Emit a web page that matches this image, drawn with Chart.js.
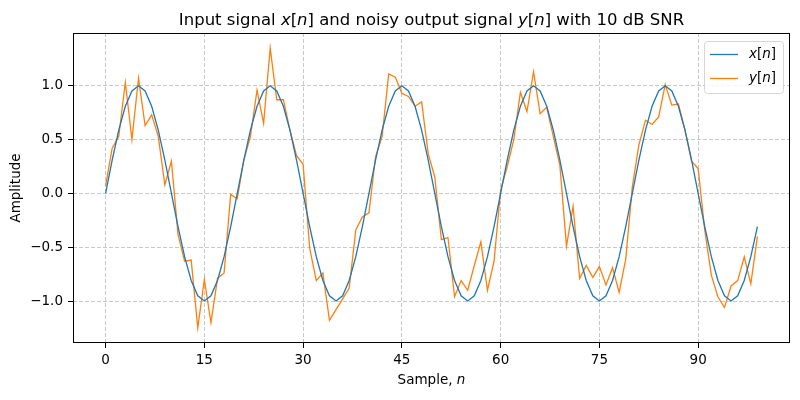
<!DOCTYPE html>
<html>
<head>
<meta charset="utf-8">
<script src="https://cdn.jsdelivr.net/npm/chart.js@4.4.1/dist/chart.umd.min.js"></script>
<style>
  html, body { margin: 0; padding: 0; background: #fff; }
  #wrap { width: 800px; height: 400px; }
</style>
</head>
<body>
<div id="wrap"><canvas id="signalChart" width="800" height="400"></canvas></div>
<script>
// sample index n = 0..99
const samples = Array.from({ length: 100 }, (_, i) => i);

// input signal x[n]
const xSignal = [
  0, 0.309, 0.588, 0.809, 0.951, 1, 0.951, 0.809, 0.588, 0.309,
  0, -0.309, -0.588, -0.809, -0.951, -1, -0.951, -0.809, -0.588, -0.309,
  0, 0.309, 0.588, 0.809, 0.951, 1, 0.951, 0.809, 0.588, 0.309,
  0, -0.309, -0.588, -0.809, -0.951, -1, -0.951, -0.809, -0.588, -0.309,
  0, 0.309, 0.588, 0.809, 0.951, 1, 0.951, 0.809, 0.588, 0.309,
  0, -0.309, -0.588, -0.809, -0.951, -1, -0.951, -0.809, -0.588, -0.309,
  0, 0.309, 0.588, 0.809, 0.951, 1, 0.951, 0.809, 0.588, 0.309,
  0, -0.309, -0.588, -0.809, -0.951, -1, -0.951, -0.809, -0.588, -0.309,
  0, 0.309, 0.588, 0.809, 0.951, 1, 0.951, 0.809, 0.588, 0.309,
  0, -0.309, -0.588, -0.809, -0.951, -1, -0.951, -0.809, -0.588, -0.309
];

// noisy output y[n]
const ySignal = [
  0.07, 0.42, 0.53, 1.03, 0.50, 1.07, 0.63, 0.73, 0.53, 0.08,
  0.30, -0.38, -0.63, -0.62, -1.25, -0.80, -1.20, -0.79, -0.74, -0.01,
  -0.05, 0.31, 0.53, 0.96, 0.65, 1.35, 0.87, 0.87, 0.59, 0.35,
  0.27, -0.51, -0.81, -0.74, -1.18, -1.08, -0.98, -0.88, -0.34, -0.22,
  -0.18, 0.34, 0.53, 1.11, 1.08, 0.93, 0.90, 0.81, 0.85, 0.37,
  0.15, -0.43, -0.41, -0.96, -0.81, -0.90, -0.67, -0.45, -0.90, -0.63,
  0.03, 0.25, 0.50, 0.94, 0.76, 1.13, 0.74, 0.80, 0.53, 0.26,
  -0.49, -0.12, -0.79, -0.67, -0.78, -0.68, -0.85, -0.69, -0.92, -0.61,
  0.06, 0.45, 0.68, 0.64, 0.71, 1.01, 0.82, 0.83, 0.59, 0.30,
  0.23, -0.34, -0.76, -0.96, -1.06, -0.86, -0.81, -0.59, -0.84, -0.40
];

const xTicks = [0, 15, 30, 45, 60, 75, 90];
const yTicks = [-1.0, -0.5, 0.0, 0.5, 1.0];

const FONT = 'DejaVu Sans';
Chart.defaults.font.family = FONT;
Chart.defaults.color = '#000';

// draws a line of text made of plain and italic pieces, centred on cx
function drawMixed(ctx, parts, cx, cy, size) {
    const fontOf = p => (p[1] ? 'italic ' : '') + size + 'px "' + FONT + '"';
    let total = 0;
    parts.forEach(p => { ctx.font = fontOf(p); total += ctx.measureText(p[0]).width; });
    let x = cx - total / 2;
    ctx.textAlign = 'left';
    parts.forEach(p => {
        ctx.font = fontOf(p);
        ctx.fillText(p[0], x, cy);
        x += ctx.measureText(p[0]).width;
    });
}

const decorations = {
    id: 'decorations',
    afterDraw(chart) {
        const ctx = chart.ctx;
        const a = chart.chartArea;
        ctx.save();
        // axes frame
        ctx.strokeStyle = '#000';
        ctx.lineWidth = 1;
        ctx.strokeRect(Math.round(a.left) + 0.5, Math.round(a.top) + 0.5,
            Math.round(a.right - a.left) - 1, Math.round(a.bottom - a.top) - 1);

        const cx = (a.left + a.right) / 2;
        ctx.fillStyle = '#000';
        ctx.textBaseline = 'alphabetic';
        drawMixed(ctx, [['Input signal ', 0], ['x', 1], ['[', 0], ['n', 1],
            ['] and noisy output signal ', 0], ['y', 1], ['[', 0], ['n', 1],
            ['] with 10 dB SNR', 0]], cx, 25, 16.5);

        ctx.textBaseline = 'middle';
        drawMixed(ctx, [['Sample, ', 0], ['n', 1]], cx, 380, 13.5);

        ctx.save();
        ctx.translate(16, (a.top + a.bottom) / 2);
        ctx.rotate(-Math.PI / 2);
        drawMixed(ctx, [['Amplitude', 0]], 0, 0, 13.5);
        ctx.restore();

        // legend
        const lx = 704, ly = 41, lw = 79, lh = 52;
        ctx.beginPath();
        ctx.roundRect(lx + 0.5, ly + 0.5, lw, lh, 3);
        ctx.fillStyle = 'rgba(255,255,255,0.8)';
        ctx.fill();
        ctx.strokeStyle = '#d6d6d6';
        ctx.lineWidth = 1;
        ctx.stroke();
        const items = [['x', '#1f77b4', 54.5], ['y', '#ff7f0e', 78.5]];
        items.forEach(it => {
            ctx.beginPath();
            ctx.moveTo(710, it[2]);
            ctx.lineTo(738, it[2]);
            ctx.strokeStyle = it[1];
            ctx.lineWidth = 1.3;
            ctx.stroke();
            ctx.fillStyle = '#000';
            ctx.textBaseline = 'middle';
            const parts = [[it[0], 1], ['[', 0], ['n', 1], [']', 0]];
            let w = 0;
            parts.forEach(p => { ctx.font = (p[1] ? 'italic ' : '') + '13.5px "' + FONT + '"'; w += ctx.measureText(p[0]).width; });
            drawMixed(ctx, parts, 749 + w / 2, it[2], 13.5);
        });
        ctx.restore();
    }
};

const ctx = document.getElementById('signalChart').getContext('2d');
new Chart(ctx, {
    type: 'line',
    data: {
        datasets: [{
            label: 'x[n]',
            data: samples.map((n, i) => ({ x: n, y: xSignal[i] })),
            borderColor: '#1f77b4',
            borderWidth: 1.3,
            pointRadius: 0,
            tension: 0
        }, {
            label: 'y[n]',
            data: samples.map((n, i) => ({ x: n, y: ySignal[i] })),
            borderColor: '#ff7f0e',
            borderWidth: 1.3,
            pointRadius: 0,
            tension: 0
        }]
    },
    options: {
        responsive: false,
        animation: false,
        layout: { padding: { left: 0, top: 33, right: 10, bottom: 0 } },
        plugins: {
            legend: { display: false },
            tooltip: { enabled: false }
        },
        scales: {
            x: {
                type: 'linear',
                min: -4.95,
                max: 103.95,
                afterBuildTicks: s => { s.ticks = xTicks.map(v => ({ value: v })); },
                afterFit: s => { s.height = 57; },
                ticks: { font: { size: 13.5 }, padding: 4, maxRotation: 0, color: '#000' },
                grid: { color: '#c8c8c8', lineWidth: 1, tickLength: 5, tickColor: '#000', tickBorderDash: [] },
                border: { display: false, dash: [4, 2] }
            },
            y: {
                min: -1.39,
                max: 1.49,
                afterBuildTicks: s => { s.ticks = yTicks.map(v => ({ value: v })); },
                afterFit: s => { s.width = 73; },
                ticks: {
                    font: { size: 13.5 },
                    padding: 5,
                    color: '#000',
                    callback: v => (v < 0 ? '\u2212' : '') + Math.abs(v).toFixed(1)
                },
                grid: { color: '#c8c8c8', lineWidth: 1, tickLength: 5, tickColor: '#000', tickBorderDash: [] },
                border: { display: false, dash: [4, 2] }
            }
        }
    },
    plugins: [decorations]
});
</script>
</body>
</html>
